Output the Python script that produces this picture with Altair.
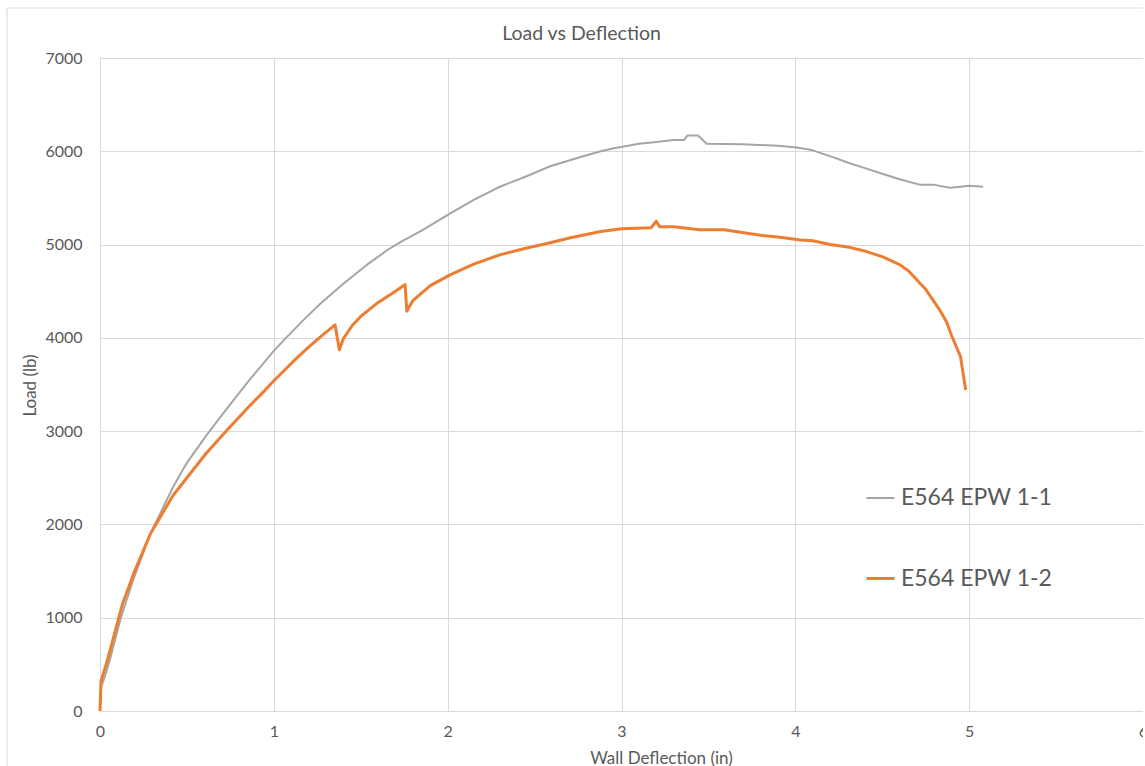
import altair as alt
import pandas as pd

series_names = ["E564 EPW 1-1", "E564 EPW 1-2"]
series_colors = ["#A5A5A5", "#ED7D31"]

# E564 EPW 1-1 (gray)
gray_x = [0, 0.005, 0.03, 0.06, 0.12, 0.19, 0.29, 0.42, 0.50, 0.61, 0.68, 0.75, 0.86,
          1.0, 1.07, 1.17, 1.27, 1.40, 1.54, 1.66, 1.73, 1.85, 2.02, 2.15, 2.30,
          2.45, 2.59, 2.75, 2.88, 2.95, 3.10, 3.20, 3.30, 3.36, 3.38, 3.41, 3.44,
          3.49, 3.70, 3.90, 4.01, 4.10, 4.22, 4.30, 4.40, 4.50, 4.60, 4.72, 4.80,
          4.89, 4.95, 5.00, 5.08]
gray_y = [0, 250, 380, 570, 1000, 1400, 1900, 2400, 2660, 2950, 3120, 3290, 3550,
          3860, 4000, 4190, 4370, 4580, 4790, 4950, 5030, 5150, 5340, 5480, 5620,
          5730, 5840, 5930, 6000, 6030, 6080, 6100, 6120, 6120, 6170, 6170, 6170,
          6080, 6075, 6060, 6040, 6010, 5935, 5880, 5820, 5760, 5700, 5640, 5640,
          5610, 5620, 5630, 5620]

# E564 EPW 1-2 (orange)
orange_x = [0, 0.006, 0.045, 0.13, 0.195, 0.29, 0.42, 0.50, 0.61, 0.73, 0.86, 0.95,
            1.0, 1.06, 1.13, 1.20, 1.28, 1.352, 1.377, 1.40, 1.45, 1.50, 1.60, 1.70,
            1.755, 1.765, 1.80, 1.90, 2.02, 2.15, 2.30, 2.45, 2.59, 2.70, 2.88, 3.00,
            3.17, 3.20, 3.22, 3.30, 3.45, 3.59, 3.80, 3.90, 4.03, 4.10, 4.20, 4.30,
            4.41, 4.50, 4.60, 4.65, 4.70, 4.75, 4.83, 4.87, 4.90, 4.95, 4.98]
orange_y = [0, 320, 560, 1150, 1480, 1900, 2310, 2500, 2760, 3010, 3270, 3440,
            3540, 3650, 3780, 3900, 4030, 4140, 3873, 3990, 4130, 4230, 4380, 4500,
            4571, 4285, 4400, 4560, 4680, 4790, 4890, 4960, 5020, 5070, 5140, 5170,
            5180, 5250, 5190, 5190, 5160, 5160, 5100, 5080, 5050, 5040, 5000, 4975,
            4925, 4870, 4785, 4720, 4620, 4520, 4300, 4170, 4020, 3800, 3440]

x_ticks = [0, 1, 2, 3, 4, 5, 6]
y_ticks = [0, 1000, 2000, 3000, 4000, 5000, 6000, 7000]

rows = []
for i, (x, y) in enumerate(zip(gray_x, gray_y)):
    rows.append({"x": x, "y": y, "series": series_names[0], "i": i})
for i, (x, y) in enumerate(zip(orange_x, orange_y)):
    rows.append({"x": x, "y": y, "series": series_names[1], "i": i})
df = pd.DataFrame(rows)

FONT = "Lato"
TXT = "#595959"
GRID = "#D9D9D9"

lines = alt.Chart(df).mark_line(strokeJoin="round").encode(
    x=alt.X("x:Q", scale=alt.Scale(domain=[0, 6], nice=False, zero=False),
            axis=alt.Axis(values=x_ticks, title="Wall Deflection (in)", grid=True,
                          gridColor=GRID, domainColor=GRID, ticks=False,
                          labelFlush=False, labelPadding=12, labelFontSize=16,
                          labelColor=TXT, labelFont=FONT, titleFont=FONT,
                          titleFontSize=17, titleColor=TXT, titleFontWeight="normal",
                          titleX=561, titleY=47, titleBaseline="middle",
                          titleAnchor="start", titleAlign="center")),
    y=alt.Y("y:Q", scale=alt.Scale(domain=[0, 7000], nice=False),
            axis=alt.Axis(values=y_ticks, title="Load (lb)", grid=True, format="d",
                          gridColor=GRID, domain=False, ticks=False,
                          labelFlush=False, labelPadding=18, labelFontSize=16,
                          labelColor=TXT, labelFont=FONT, titleFont=FONT,
                          titleFontSize=17, titleColor=TXT, titleFontWeight="normal",
                          titleX=-70, titleY=327, titleBaseline="middle",
                          titleAlign="center", titleAngle=270)),
    color=alt.Color("series:N",
                    scale=alt.Scale(domain=series_names, range=series_colors),
                    legend=alt.Legend(title=None, orient="none", legendX=765,
                                      legendY=425, symbolType="stroke",
                                      symbolSize=784, symbolStrokeWidth=2,
                                      labelFontSize=23, labelFont=FONT,
                                      labelColor=TXT, labelOffset=5,
                                      rowPadding=53, padding=0)),
    strokeWidth=alt.StrokeWidth("series:N",
                                scale=alt.Scale(domain=series_names, range=[2, 3]),
                                legend=None),
    order="i:Q",
)

border = alt.Chart(pd.DataFrame({"a": [0]})).mark_rule(color=GRID, strokeWidth=1).encode(
    x=alt.value(-93), y=alt.value(-50), y2=alt.value(720)
)
border_top = alt.Chart(pd.DataFrame({"a": [0]})).mark_rule(color=GRID, strokeWidth=1).encode(
    x=alt.value(-93), x2=alt.value(1100), y=alt.value(-50)
)

chart = alt.layer(border, border_top, lines).properties(
    width=1043,
    height=653,
    title=alt.TitleParams("Load vs Deflection", font=FONT, fontSize=19.5,
                          fontWeight="normal", color=TXT, anchor="middle",
                          baseline="middle", dx=-40, dy=56, offset=10),
    autosize=alt.AutoSizeParams(type="none"),
    padding={"left": 100, "top": 58, "right": 0, "bottom": 55},
).configure_view(stroke=None).configure(background="white")

chart.save("out.html", embed_options={"renderer": "svg", "actions": False})
